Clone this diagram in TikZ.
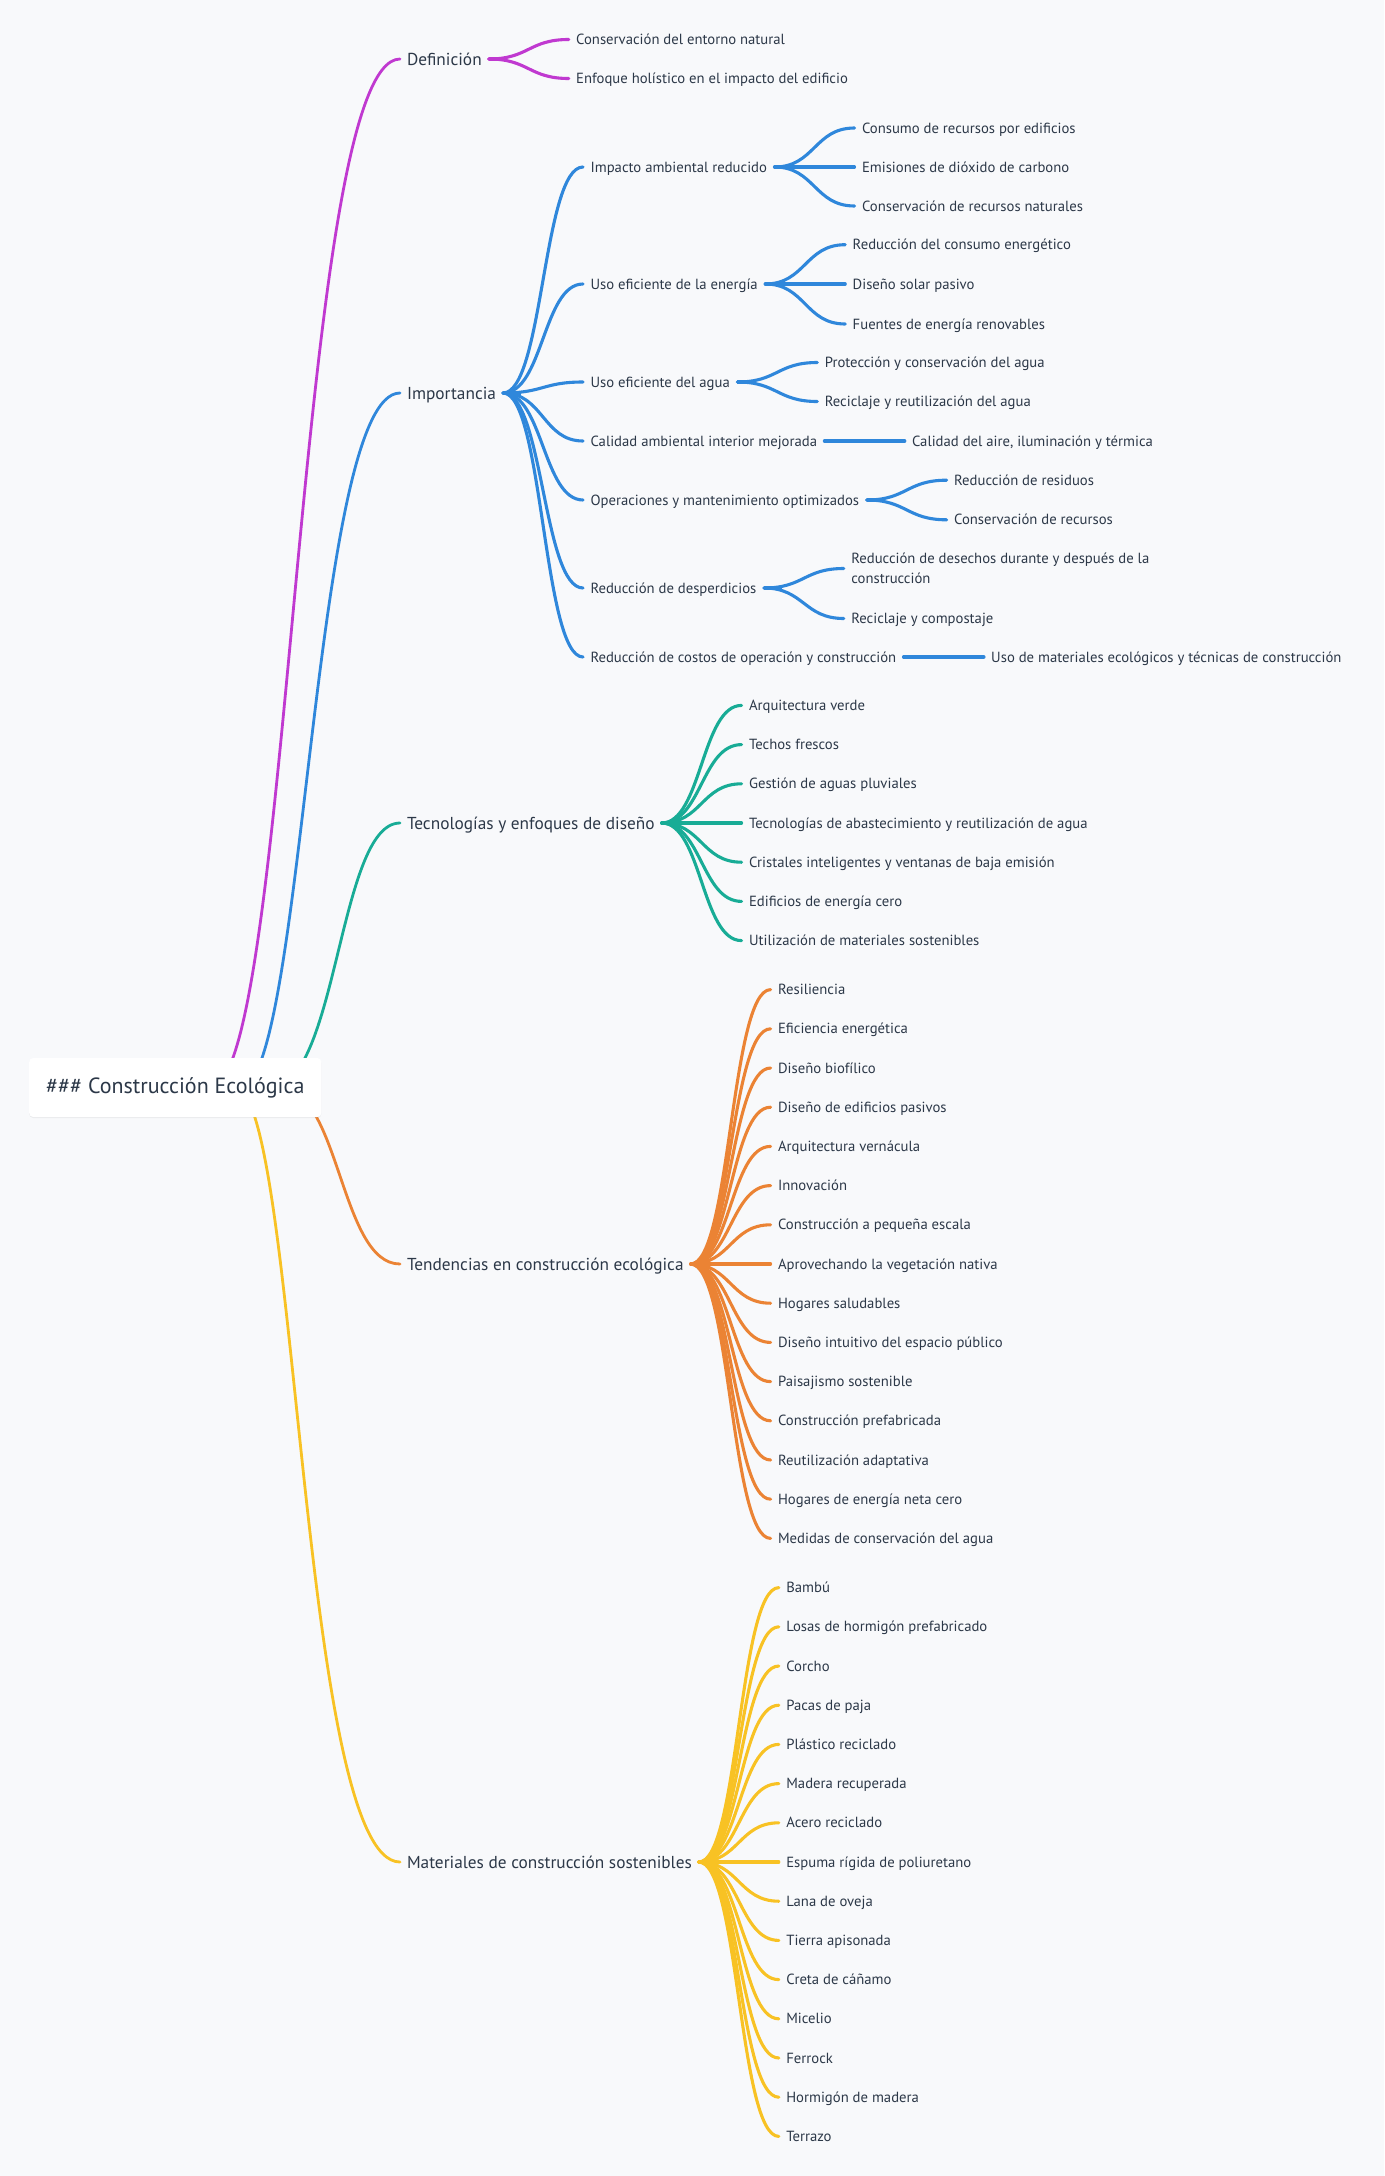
\documentclass[tikz,border=0pt]{standalone}
\usepackage{fontspec}
\setmainfont{PT Sans}
\usepackage{tikz}
\usetikzlibrary{calc, shadows}

\definecolor{bg}{RGB}{248,249,251}
\definecolor{ink}{RGB}{44,56,72}
\definecolor{cDef}{RGB}{192,57,208}
\definecolor{cImp}{RGB}{47,135,219}
\definecolor{cTec}{RGB}{24,172,150}
\definecolor{cTen}{RGB}{235,131,52}
\definecolor{cMat}{RGB}{248,194,36}

\tikzstyle{leaf} = [anchor=west, inner sep=0pt, outer xsep=7.5pt, text=ink, font=\fontsize{14.7}{20}\selectfont, text height=10.2pt, text depth=0pt]
\tikzstyle{leafwrap} = [anchor=west, inner sep=0pt, outer xsep=7.5pt, text=ink, font=\fontsize{14.7}{20}\selectfont, align=left]
\tikzstyle{topic} = [leaf, outer xsep=7pt, font=\fontsize{17.3}{20}\selectfont, text height=12.1pt]
\tikzstyle{trunk} = [line width=2.8pt, line cap=round]
\tikzstyle{twig} = [line width=3.1pt, line cap=round]
\tikzstyle{stub} = [line width=4pt]
\tikzstyle{fan} = [out=0, in=180, distance=40pt]

\begin{document}
\begin{tikzpicture}[x=1pt, y=-1pt]

\fill [bg] (0, 0) rectangle (1384, 2176);

% Main topics
\node [topic] (def) at (400, 59) {Definición};
\node [topic] (imp) at (400, 393) {Importancia};
\node [topic] (tec) at (400, 823) {Tecnologías y enfoques de diseño};
\node [topic] (ten) at (400, 1264) {Tendencias en construcción ecológica};
\node [topic] (mat) at (400, 1862) {Materiales de construcción sostenibles};

% Definicion
\node [leaf] (def1) at ($(def.east) + (80, -19.5)$) {Conservación del entorno natural};
\node [leaf] (def2) at ($(def.east) + (80, 19.5)$) {Enfoque holístico en el impacto del edificio};
\draw [stub, cDef] (def.east) -- ++(18, 0);
\draw [twig, cDef] (def.east) to[fan] (def1.west);
\draw [twig, cDef] (def.east) to[fan] (def2.west);

% Importancia
\node [leaf] (imp1) at ($(imp.east) + (80, -226)$) {Impacto ambiental reducido};
\node [leaf] (imp2) at ($(imp.east) + (80, -109)$) {Uso eficiente de la energía};
\node [leaf] (imp3) at ($(imp.east) + (80, -11)$) {Uso eficiente del agua};
\node [leaf] (imp4) at ($(imp.east) + (80, 48)$) {Calidad ambiental interior mejorada};
\node [leaf] (imp5) at ($(imp.east) + (80, 107)$) {Operaciones y mantenimiento optimizados};
\node [leaf] (imp6) at ($(imp.east) + (80, 195)$) {Reducción de desperdicios};
\node [leaf] (imp7) at ($(imp.east) + (80, 264)$) {Reducción de costos de operación y construcción};
\draw [stub, cImp] (imp.east) -- ++(18, 0);
\draw [twig, cImp] (imp.east) to[fan] (imp1.west);
\draw [twig, cImp] (imp.east) to[fan] (imp2.west);
\draw [twig, cImp] (imp.east) to[fan] (imp3.west);
\draw [twig, cImp] (imp.east) to[fan] (imp4.west);
\draw [twig, cImp] (imp.east) to[fan] (imp5.west);
\draw [twig, cImp] (imp.east) to[fan] (imp6.west);
\draw [twig, cImp] (imp.east) to[fan] (imp7.west);

\node [leaf] (imp1a) at ($(imp1.east) + (80, -39)$) {Consumo de recursos por edificios};
\node [leaf] (imp1b) at ($(imp1.east) + (80, 0)$) {Emisiones de dióxido de carbono};
\node [leaf] (imp1c) at ($(imp1.east) + (80, 39)$) {Conservación de recursos naturales};
\draw [stub, cImp] (imp1.east) -- ++(18, 0);
\draw [twig, cImp] (imp1.east) to[fan] (imp1a.west);
\draw [twig, cImp] (imp1.east) to[fan] (imp1b.west);
\draw [twig, cImp] (imp1.east) to[fan] (imp1c.west);

\node [leaf] (imp2a) at ($(imp2.east) + (80, -39.3)$) {Reducción del consumo energético};
\node [leaf] (imp2b) at ($(imp2.east) + (80, 0)$) {Diseño solar pasivo};
\node [leaf] (imp2c) at ($(imp2.east) + (80, 40)$) {Fuentes de energía renovables};
\draw [stub, cImp] (imp2.east) -- ++(18, 0);
\draw [twig, cImp] (imp2.east) to[fan] (imp2a.west);
\draw [twig, cImp] (imp2.east) to[fan] (imp2b.west);
\draw [twig, cImp] (imp2.east) to[fan] (imp2c.west);

\node [leaf] (imp3a) at ($(imp3.east) + (80, -19.5)$) {Protección y conservación del agua};
\node [leaf] (imp3b) at ($(imp3.east) + (80, 19.5)$) {Reciclaje y reutilización del agua};
\draw [stub, cImp] (imp3.east) -- ++(18, 0);
\draw [twig, cImp] (imp3.east) to[fan] (imp3a.west);
\draw [twig, cImp] (imp3.east) to[fan] (imp3b.west);

\node [leaf] (imp4a) at ($(imp4.east) + (80, 0)$) {Calidad del aire, iluminación y térmica};
\draw [twig, line width=3.6pt, cImp] (imp4.east) -- (imp4a.west);

\node [leaf] (imp5a) at ($(imp5.east) + (80, -19.8)$) {Reducción de residuos};
\node [leaf] (imp5b) at ($(imp5.east) + (80, 19.8)$) {Conservación de recursos};
\draw [stub, cImp] (imp5.east) -- ++(18, 0);
\draw [twig, cImp] (imp5.east) to[fan] (imp5a.west);
\draw [twig, cImp] (imp5.east) to[fan] (imp5b.west);

\node [leafwrap] (imp6a) at ($(imp6.east) + (80, -19.5)$) {Reducción de desechos durante y después de la\\construcción};
\node [leaf] (imp6b) at ($(imp6.east) + (80, 30.5)$) {Reciclaje y compostaje};
\draw [stub, cImp] (imp6.east) -- ++(18, 0);
\draw [twig, cImp] (imp6.east) to[fan] (imp6a.west);
\draw [twig, cImp] (imp6.east) to[fan] (imp6b.west);

\node [leaf] (imp7a) at ($(imp7.east) + (80, 0)$) {Uso de materiales ecológicos y técnicas de construcción};
\draw [twig, line width=3.6pt, cImp] (imp7.east) -- (imp7a.west);

% Tecnologias
\node [leaf] (tec1) at ($(tec.east) + (80, -117.6)$) {Arquitectura verde};
\node [leaf] (tec2) at ($(tec.east) + (80, -78.4)$) {Techos frescos};
\node [leaf] (tec3) at ($(tec.east) + (80, -39.2)$) {Gestión de aguas pluviales};
\node [leaf] (tec4) at ($(tec.east) + (80, 0)$) {Tecnologías de abastecimiento y reutilización de agua};
\node [leaf] (tec5) at ($(tec.east) + (80, 39.2)$) {Cristales inteligentes y ventanas de baja emisión};
\node [leaf] (tec6) at ($(tec.east) + (80, 78.4)$) {Edificios de energía cero};
\node [leaf] (tec7) at ($(tec.east) + (80, 117.6)$) {Utilización de materiales sostenibles};
\draw [stub, cTec] (tec.east) -- ++(18, 0);
\draw [twig, cTec] (tec.east) to[fan] (tec1.west);
\draw [twig, cTec] (tec.east) to[fan] (tec2.west);
\draw [twig, cTec] (tec.east) to[fan] (tec3.west);
\draw [twig, cTec] (tec.east) to[fan] (tec4.west);
\draw [twig, cTec] (tec.east) to[fan] (tec5.west);
\draw [twig, cTec] (tec.east) to[fan] (tec6.west);
\draw [twig, cTec] (tec.east) to[fan] (tec7.west);

% Tendencias
\node [leaf] (ten1) at ($(ten.east) + (80, -274.4)$) {Resiliencia};
\node [leaf] (ten2) at ($(ten.east) + (80, -235.2)$) {Eficiencia energética};
\node [leaf] (ten3) at ($(ten.east) + (80, -196)$) {Diseño biofílico};
\node [leaf] (ten4) at ($(ten.east) + (80, -156.8)$) {Diseño de edificios pasivos};
\node [leaf] (ten5) at ($(ten.east) + (80, -117.6)$) {Arquitectura vernácula};
\node [leaf] (ten6) at ($(ten.east) + (80, -78.4)$) {Innovación};
\node [leaf] (ten7) at ($(ten.east) + (80, -39.2)$) {Construcción a pequeña escala};
\node [leaf] (ten8) at ($(ten.east) + (80, 0)$) {Aprovechando la vegetación nativa};
\node [leaf] (ten9) at ($(ten.east) + (80, 39.2)$) {Hogares saludables};
\node [leaf] (ten10) at ($(ten.east) + (80, 78.4)$) {Diseño intuitivo del espacio público};
\node [leaf] (ten11) at ($(ten.east) + (80, 117.6)$) {Paisajismo sostenible};
\node [leaf] (ten12) at ($(ten.east) + (80, 156.8)$) {Construcción prefabricada};
\node [leaf] (ten13) at ($(ten.east) + (80, 196)$) {Reutilización adaptativa};
\node [leaf] (ten14) at ($(ten.east) + (80, 235.2)$) {Hogares de energía neta cero};
\node [leaf] (ten15) at ($(ten.east) + (80, 274.4)$) {Medidas de conservación del agua};
\draw [stub, cTen] (ten.east) -- ++(18, 0);
\draw [twig, cTen] (ten.east) to[fan] (ten1.west);
\draw [twig, cTen] (ten.east) to[fan] (ten2.west);
\draw [twig, cTen] (ten.east) to[fan] (ten3.west);
\draw [twig, cTen] (ten.east) to[fan] (ten4.west);
\draw [twig, cTen] (ten.east) to[fan] (ten5.west);
\draw [twig, cTen] (ten.east) to[fan] (ten6.west);
\draw [twig, cTen] (ten.east) to[fan] (ten7.west);
\draw [twig, cTen] (ten.east) to[fan] (ten8.west);
\draw [twig, cTen] (ten.east) to[fan] (ten9.west);
\draw [twig, cTen] (ten.east) to[fan] (ten10.west);
\draw [twig, cTen] (ten.east) to[fan] (ten11.west);
\draw [twig, cTen] (ten.east) to[fan] (ten12.west);
\draw [twig, cTen] (ten.east) to[fan] (ten13.west);
\draw [twig, cTen] (ten.east) to[fan] (ten14.west);
\draw [twig, cTen] (ten.east) to[fan] (ten15.west);

% Materiales
\node [leaf] (mat1) at ($(mat.east) + (80, -274.4)$) {Bambú};
\node [leaf] (mat2) at ($(mat.east) + (80, -235.2)$) {Losas de hormigón prefabricado};
\node [leaf] (mat3) at ($(mat.east) + (80, -196)$) {Corcho};
\node [leaf] (mat4) at ($(mat.east) + (80, -156.8)$) {Pacas de paja};
\node [leaf] (mat5) at ($(mat.east) + (80, -117.6)$) {Plástico reciclado};
\node [leaf] (mat6) at ($(mat.east) + (80, -78.4)$) {Madera recuperada};
\node [leaf] (mat7) at ($(mat.east) + (80, -39.2)$) {Acero reciclado};
\node [leaf] (mat8) at ($(mat.east) + (80, 0)$) {Espuma rígida de poliuretano};
\node [leaf] (mat9) at ($(mat.east) + (80, 39.2)$) {Lana de oveja};
\node [leaf] (mat10) at ($(mat.east) + (80, 78.4)$) {Tierra apisonada};
\node [leaf] (mat11) at ($(mat.east) + (80, 117.6)$) {Creta de cáñamo};
\node [leaf] (mat12) at ($(mat.east) + (80, 156.8)$) {Micelio};
\node [leaf] (mat13) at ($(mat.east) + (80, 196)$) {Ferrock};
\node [leaf] (mat14) at ($(mat.east) + (80, 235.2)$) {Hormigón de madera};
\node [leaf] (mat15) at ($(mat.east) + (80, 274.4)$) {Terrazo};
\draw [stub, cMat] (mat.east) -- ++(18, 0);
\draw [twig, cMat] (mat.east) to[fan] (mat1.west);
\draw [twig, cMat] (mat.east) to[fan] (mat2.west);
\draw [twig, cMat] (mat.east) to[fan] (mat3.west);
\draw [twig, cMat] (mat.east) to[fan] (mat4.west);
\draw [twig, cMat] (mat.east) to[fan] (mat5.west);
\draw [twig, cMat] (mat.east) to[fan] (mat6.west);
\draw [twig, cMat] (mat.east) to[fan] (mat7.west);
\draw [twig, cMat] (mat.east) to[fan] (mat8.west);
\draw [twig, cMat] (mat.east) to[fan] (mat9.west);
\draw [twig, cMat] (mat.east) to[fan] (mat10.west);
\draw [twig, cMat] (mat.east) to[fan] (mat11.west);
\draw [twig, cMat] (mat.east) to[fan] (mat12.west);
\draw [twig, cMat] (mat.east) to[fan] (mat13.west);
\draw [twig, cMat] (mat.east) to[fan] (mat14.west);
\draw [twig, cMat] (mat.east) to[fan] (mat15.west);

% Root links (start hidden behind the root box)
\coordinate (rDef) at (210, 1088);
\coordinate (rImp) at (240, 1088);
\coordinate (rTec) at (270, 1088);
\coordinate (rTen) at (280, 1088);
\coordinate (rMat) at (235, 1088);
\draw [trunk, cDef] (rDef) .. controls (292, 1088) and (296, 59) .. (def.west);
\draw [trunk, cImp] (rImp) .. controls (305, 1088) and (312, 393) .. (imp.west);
\draw [trunk, cTec] (rTec) .. controls (338, 1088) and (338, 823) .. (tec.west);
\draw [trunk, cTen] (rTen) .. controls (340, 1088) and (340, 1264) .. (ten.west);
\draw [trunk, cMat] (rMat) .. controls (298, 1088) and (300, 1862) .. (mat.west);

% Root
\node [anchor=west, fill=white, rounded corners=4pt, inner xsep=17pt, minimum height=59pt,
       text=ink, font=\fontsize{22}{24}\selectfont,
       drop shadow={shadow xshift=0pt, shadow yshift=-1pt, opacity=0.06, fill=black}]
  (root) at (29, 1087.5) {\#\#\# Construcción Ecológica};

\end{tikzpicture}
\end{document}
